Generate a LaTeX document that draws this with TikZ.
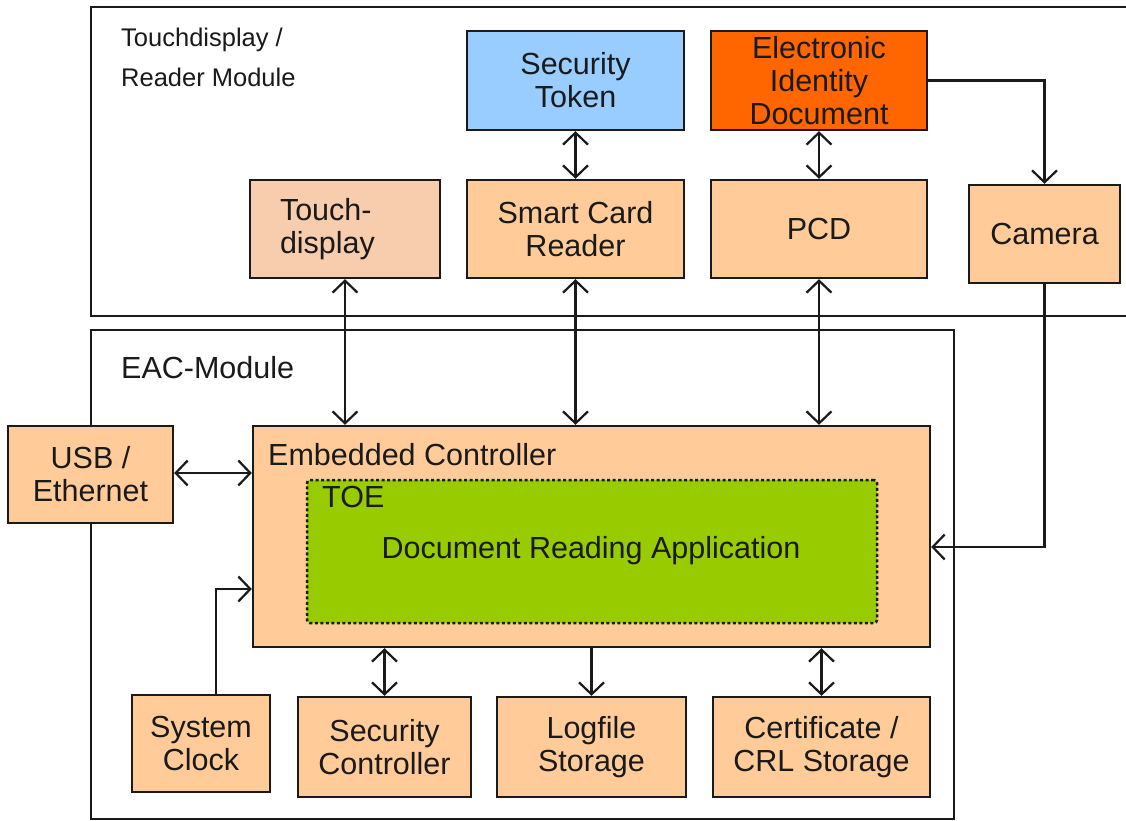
\documentclass[tikz,border=0pt]{standalone}
\usepackage{fontspec}
\setmainfont{Liberation Sans}
\usetikzlibrary{arrows.meta}
\definecolor{peach}{HTML}{FFCC99}
\definecolor{lightpeach}{HTML}{F8CDAE}
\definecolor{tokenblue}{HTML}{99CCFF}
\definecolor{eidorange}{HTML}{FF6600}
\definecolor{toegreen}{HTML}{99CC00}
\definecolor{ink}{HTML}{1A1A1A}
\begin{document}
\begin{tikzpicture}[x=1pt,y=-1pt,
  box/.style={draw=ink, line width=2.3pt, fill=peach, text=ink, align=center, inner sep=0pt,
    font=\fontsize{30.5}{33}\selectfont},
  panel/.style={draw=ink, line width=2.2pt},
  lbl/.style={inner sep=0pt, text=ink, font=\fontsize{30.5}{33}\selectfont},
  arr/.style={draw=ink, line width=2.2pt, -{Straight Barb[length=12pt,width=25pt,line width=2.2pt]}},
  darr/.style={draw=ink, line width=2.2pt, {Straight Barb[length=12pt,width=25pt,line width=2.2pt]}-{Straight Barb[length=12pt,width=25pt,line width=2.2pt]}}
]
\useasboundingbox (0,0) rectangle (1126,821);
\fill[white] (0,0) rectangle (1126,821);

% panels
\draw[panel] (91,7) rectangle (1140,316);
\draw[panel] (91,330) rectangle (954,819);
\node[anchor=base west, inner sep=0pt, text=ink, font=\fontsize{25.5}{28}\selectfont] (tlab1) at (121,47) {Touchdisplay /};
\node[anchor=base west, inner sep=0pt, text=ink, font=\fontsize{25.5}{28}\selectfont] (tlab2) at (121,87) {Reader Module};
\node[lbl, anchor=base west] (eaclab) at (121,378) {EAC-Module};

% top boxes
\node[box, fill=tokenblue, minimum width=217pt, minimum height=99pt] (sectok) at (575.5,80.5) {Security\\Token};
\node[box, fill=eidorange, minimum width=216pt, minimum height=99pt] (eid) at (819,80.5) {Electronic\\Identity\\Document};
\node[box, fill=lightpeach, minimum width=190pt, minimum height=98pt, text width=130pt, align=left] (touch) at (345,229) {Touch-\\display};
\node[box, minimum width=217pt, minimum height=98pt] (scr) at (575.5,229) {Smart Card\\Reader};
\node[box, minimum width=216pt, minimum height=98pt] (pcd) at (819,229) {PCD};
\node[box, minimum width=151pt, minimum height=98pt] (camera) at (1044.5,234) {Camera};

% EAC boxes
\node[box, minimum width=165pt, minimum height=97pt] (usb) at (90.5,474.5) {USB /\\Ethernet};
\node[box, minimum width=677pt, minimum height=221pt] (ec) at (591.5,536.5) {};
\node[lbl, anchor=base west] (eclab) at (268,465) {Embedded Controller};
\node[draw=ink, fill=toegreen, line width=2.5pt, dash pattern=on 3pt off 2.5pt, rounded corners=3pt,
  minimum width=570pt, minimum height=143pt, inner sep=0pt] (toe) at (592,551.5) {};
\node[lbl, anchor=base west] (toelab) at (322,507) {TOE};
\node[lbl, anchor=base] (dra) at (591,558) {Document Reading Application};

\node[box, minimum width=138pt, minimum height=97pt] (clock) at (201,743.5) {System\\Clock};
\node[box, minimum width=173pt, minimum height=100pt] (secctrl) at (384.5,747) {Security\\Controller};
\node[box, minimum width=189pt, minimum height=100pt] (log) at (591.5,747) {Logfile\\Storage};
\node[box, minimum width=217pt, minimum height=100pt] (cert) at (821.5,747) {Certificate /\\CRL Storage};

% connectors
\draw[darr] (sectok.south) -- (scr.north);
\draw[darr] (eid.south) -- (pcd.north);
\draw[arr] (eid.east) -| (camera.north);
\draw[darr] (touch.south) -- (touch.south |- ec.north);
\draw[darr] (scr.south) -- (scr.south |- ec.north);
\draw[darr] (pcd.south) -- (pcd.south |- ec.north);
\draw[arr] (camera.south) |- ([yshift=-10.5pt]ec.east);
\draw[darr] ([yshift=1.5pt]usb.east) -- ([yshift=1.5pt]usb.east -| ec.west);
\draw[arr] ([xshift=15pt]clock.north) |- ([yshift=-52.5pt]ec.west);
\draw[darr] (secctrl.north) -- (secctrl.north |- ec.south);
\draw[arr] (ec.south -| log.north) -- (log.north);
\draw[darr] (cert.north) -- (cert.north |- ec.south);
\end{tikzpicture}
\end{document}
